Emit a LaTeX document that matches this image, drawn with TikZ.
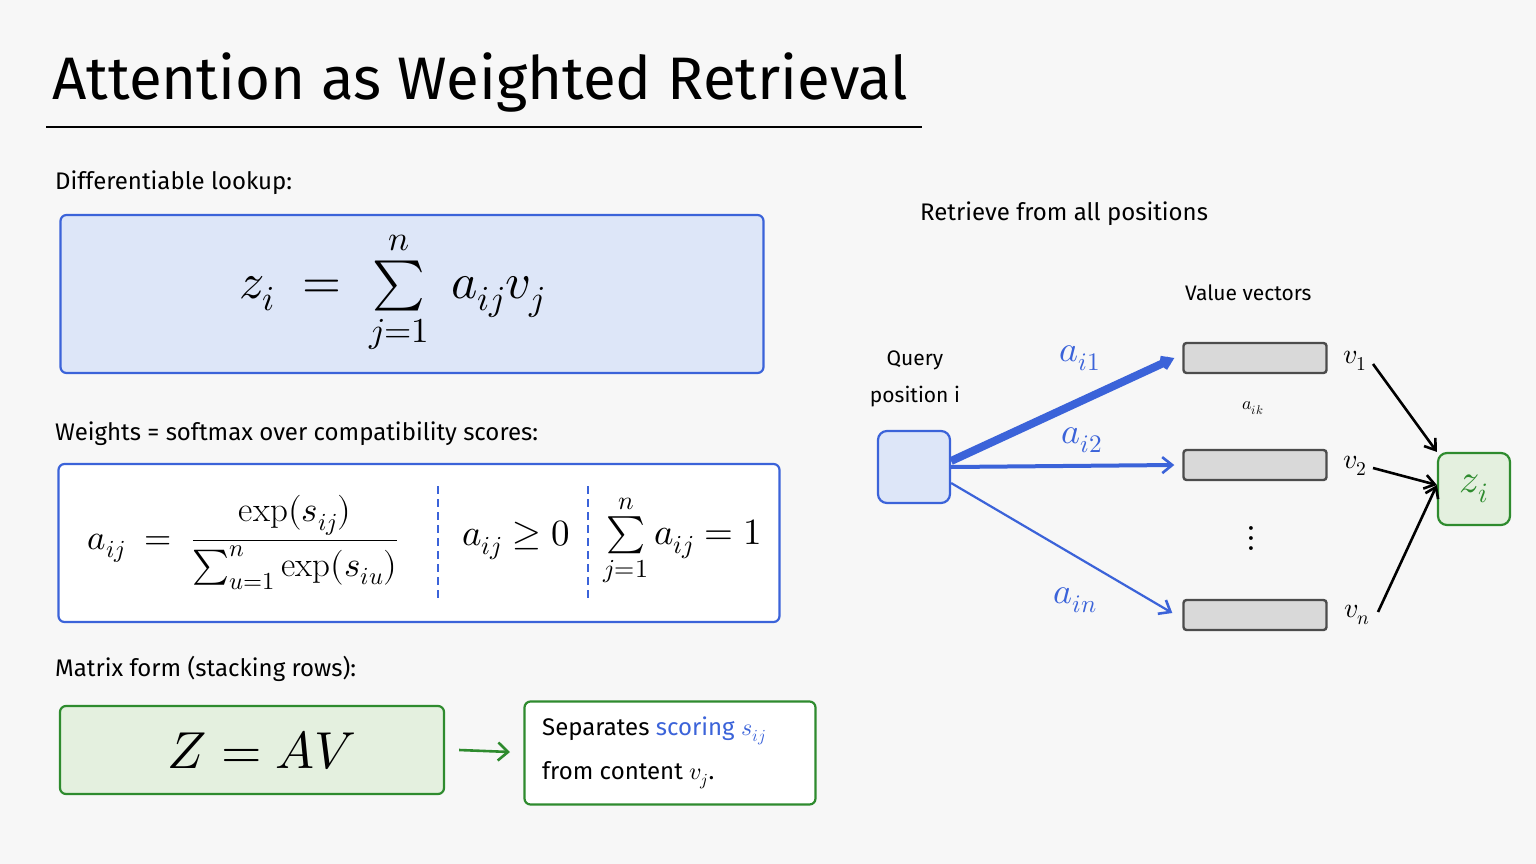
\documentclass[tikz,border=0pt]{standalone}
\usepackage{amsmath,amssymb}
\usepackage{fontspec}
\setmainfont{Fira Sans}
\usepackage{unicode-math}
\setmathfont{Latin Modern Math}
\setmathrm{Latin Modern Roman}
\usetikzlibrary{arrows.meta}
\definecolor{bl}{HTML}{3B63D9}
\definecolor{blf}{HTML}{DDE6F8}
\definecolor{gr}{HTML}{2E8B2E}
\definecolor{grf}{HTML}{E4F0DF}
\definecolor{bg}{HTML}{F7F7F7}
\definecolor{gy}{HTML}{D9D9D9}
\begin{document}
\begin{tikzpicture}[x=1pt,y=-1pt,
  txt/.style={font=\fontsize{24}{28}\selectfont,anchor=west,inner sep=0},
  box/.style={draw,line width=2.2pt,rounded corners=6pt},
  vec/.style={draw=black!70,fill=gy,line width=2.4pt,rounded corners=3pt,minimum width=143pt,minimum height=30pt,inner sep=0},
  blarr/.style={draw=bl,-{Straight Barb[length=10pt,width=16pt,line width=2.6pt]}},
  karr/.style={draw=black,line width=2.6pt,-{Straight Barb[length=10pt,width=14pt]}}]
\fill[bg] (0,0) rectangle (1536,864);
\node[anchor=west,inner sep=0,font=\fontsize{60}{64}\selectfont] (title) at (52,82) {Attention as Weighted Retrieval};
\draw[line width=2.6pt] (46,127) -- (922,127);
\node[txt] (t1) at (55,183) {Differentiable lookup:};
\node[box,draw=bl,fill=blf,minimum width=703pt,minimum height=158pt] (b1) at (412,294) {};
\node (m1) at (392,292) {\fontsize{50}{56}\selectfont$z_i \;=\; \sum\limits_{j=1}^{n}\; a_{ij}v_j$};
\node[txt] (t2) at (55,434) {Weights = softmax over compatibility scores:};
\node[box,draw=bl,fill=white,minimum width=721pt,minimum height=158pt] (b2) at (419,543) {};
\node (m2a) at (243,543) {\fontsize{35}{40}\selectfont$a_{ij}\;=\;\dfrac{\exp(s_{ij})}{\sum_{u=1}^{n}\exp(s_{iu})}$};
\draw[bl,line width=1.8pt,dash pattern=on 8pt off 5pt] (438,486) -- (438,600);
\draw[bl,line width=1.8pt,dash pattern=on 8pt off 5pt] (588,486) -- (588,600);
\node (m2b) at (516,540) {\fontsize{37}{40}\selectfont$a_{ij}\geq 0$};
\node (m2c) at (683,540) {\fontsize{37}{40}\selectfont$\sum\limits_{j=1}^{n} a_{ij}=1$};
\node[txt] (t3) at (55,669) {Matrix form (stacking rows):};
\node[box,draw=gr,fill=grf,minimum width=384pt,minimum height=88pt] (b3) at (252,750) {};
\node (m3) at (262,750) {\fontsize{52}{58}\selectfont$Z = AV$};
\node[box,draw=gr,fill=white,minimum width=291pt,minimum height=103pt] (b4) at (670,753) {};
\node[txt,align=left,anchor=north west,font=\fontsize{24}{44}\selectfont] (t4) at (542,717) {Separates \textcolor{bl}{scoring $s_{ij}$}\\from content $v_j$.};
\draw[gr,line width=2.6pt,-{Straight Barb[length=10pt,width=18pt]}] (b3.east)+(14,0) coordinate (c0) -- (510,752);
\node[txt] (t5) at (920,214) {Retrieve from all positions};
\node[txt,font=\fontsize{21}{25}\selectfont] (t6) at (1185,293) {Value vectors};
\node[txt,font=\fontsize{21}{25}\selectfont,anchor=center,align=center] (t7) at (915,379) {Query\\[12pt]position i};
\node[box,draw=bl,fill=blf,minimum width=72pt,minimum height=72pt,rounded corners=9pt] (q) at (914,467) {};
\node[vec] (v1) at (1255,358) {};
\node[vec] (v2) at (1255,465) {};
\node[vec] (vn) at (1255,615) {};
\node[font=\fontsize{36}{36}\selectfont] (dots) at (1251,538) {$\vdots$};
\node[font=\fontsize{18}{18}\selectfont] (aik) at (1253,408) {$a_{ik}$};
\node[box,draw=gr,fill=grf,minimum width=72pt,minimum height=72pt,rounded corners=9pt] (z) at (1474,489) {};
\node[gr,font=\fontsize{40}{40}\selectfont] at (z) {$z_i$};
\draw[blarr,line width=8pt,-{Straight Barb[length=9pt,width=12pt,line width=4pt]}] (q.east)+(0,-6) coordinate (qa) -- ([xshift=-8pt]v1.west);
\draw[blarr,line width=4pt] (q.east) -- ([xshift=-8pt]v2.west);
\draw[blarr,line width=2.2pt] (q.east)+(0,16) coordinate (qb) -- ([xshift=-10pt,yshift=2pt]vn.west);
\node[bl,font=\fontsize{36}{36}\selectfont] (l1) at (1080,358) {$a_{i1}$};
\node[bl,font=\fontsize{36}{36}\selectfont] (l2) at (1082,440) {$a_{i2}$};
\node[bl,font=\fontsize{36}{36}\selectfont] (l3) at (1075,600) {$a_{in}$};
\node[font=\fontsize{28}{28}\selectfont] (w1) at (1355,361) {$v_1$};
\node[font=\fontsize{28}{28}\selectfont] (w2) at (1355,466) {$v_2$};
\node[font=\fontsize{28}{28}\selectfont] (wn) at (1357,615) {$v_n$};
\draw[karr] (1373,364) -- (z.north west);
\draw[karr] (1373,468) -- ([yshift=4pt]z.west);
\draw[karr] (1378,612) -- ([yshift=4pt]z.west);
\end{tikzpicture}
\end{document}
